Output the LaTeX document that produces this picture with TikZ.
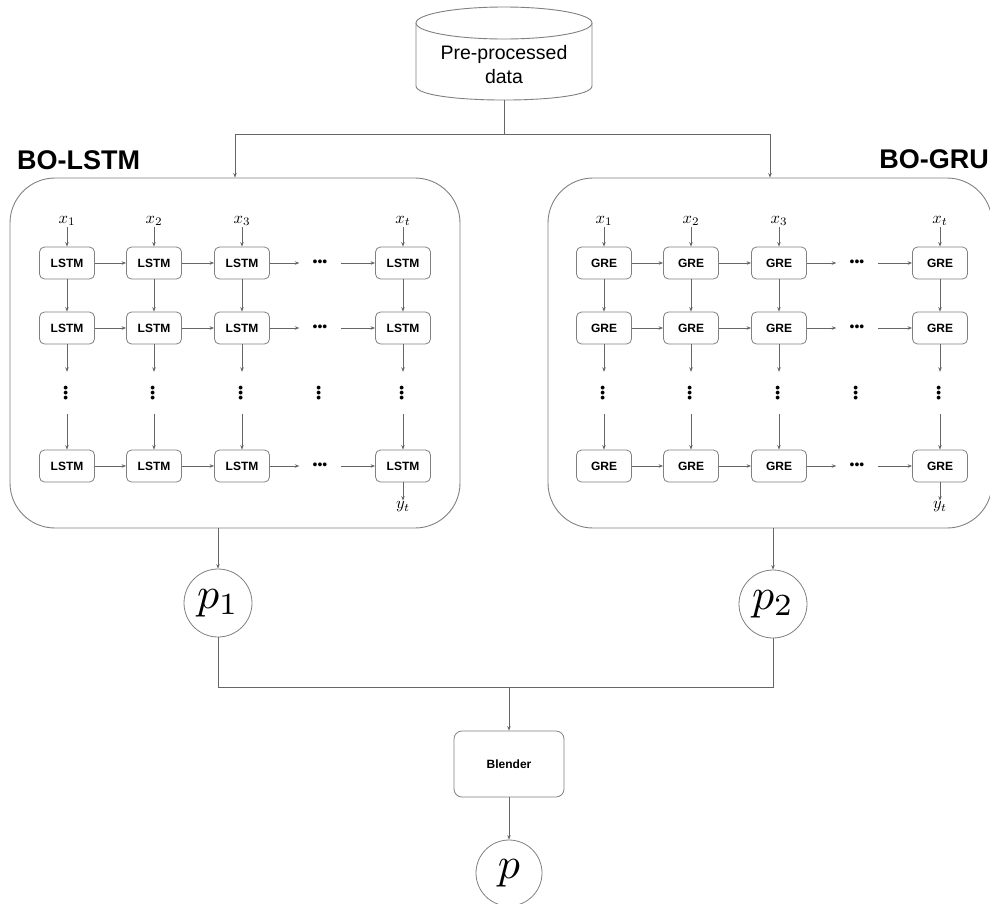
\documentclass[tikz,border=0pt]{standalone}
\usepackage{graphicx}
\usepackage{fontspec}
\setmainfont{Liberation Sans}
\usetikzlibrary{arrows.meta}
\definecolor{linecol}{gray}{0.4}
\definecolor{boxcol}{gray}{0.5}
\newcommand\mygrid[2]{%
  \foreach \c/\x in {1/67,2/154,3/242,5/403}{%
    \foreach \r/\y in {1/263,2/328,4/466}{%
      \node[cell] (#1-\r-\c) at (\x,\y) {#2};}
    \node[vdotsn] (#1-v-\c) at (\x,393) {•••};
  }
  \node[vdotsn] (#1-v-4) at (320,393) {•••};
  \foreach \r/\y in {1/263,2/328,4/466}{%
    \node[hdotsn] (#1-h-\r) at (320,\y) {•••};
    \draw[arr] (#1-\r-1) -- (#1-\r-2);
    \draw[arr] (#1-\r-2) -- (#1-\r-3);
    \draw[arr] (#1-\r-3) -- (#1-h-\r);
    \draw[arr] (#1-h-\r) -- (#1-\r-5);
  }
  \foreach \c in {1,2,3,5}{%
    \draw[arr] (#1-1-\c) -- (#1-2-\c);
    \draw[arr] (#1-2-\c) -- (#1-v-\c);
    \draw[arr] (#1-v-\c) -- (#1-4-\c);
  }
  \foreach \c/\x/\s in {1/67/1,2/154/2,3/242/3,5/403/t}{%
    \node[lab] (#1-x-\c) at (\x,221) {\scalebox{1.65}{$x_{\s}$}};
    \draw[arr] (#1-x-\c) -- (#1-1-\c);
  }
  \node[lab] (#1-y) at (403,507) {\scalebox{1.65}{$y_t$}};
  \draw[arr] (#1-4-5) -- (#1-y);
}
\begin{document}
\begin{tikzpicture}[x=1pt,y=-1pt,
  line/.style={draw=linecol, line width=0.8pt},
  arr/.style={line, -{Stealth[length=4.5pt,width=3.5pt]}},
  cell/.style={draw=boxcol, line width=0.8pt, rounded corners=5pt, minimum width=55pt, minimum height=32pt, inner sep=0pt, font=\fontsize{12}{14}\selectfont\bfseries, fill=white},
  hdotsn/.style={minimum width=41pt, minimum height=10pt, inner sep=0pt, font=\fontsize{14}{14}\selectfont},
  vdotsn/.style={rotate=90, minimum width=42pt, minimum height=10pt, inner sep=0pt, font=\fontsize{14}{14}\selectfont},
  lab/.style={inner sep=1pt},
  panel/.style={draw=boxcol, line width=0.9pt, rounded corners=45pt, inner sep=0pt},
  prob/.style={circle, draw=boxcol, line width=0.8pt, minimum size=68pt, inner sep=0pt},
  titlef/.style={inner sep=0pt, font=\fontsize{27}{27}\selectfont\bfseries}
]
\useasboundingbox (0,0) rectangle (990,903);

% database cylinder
\draw[boxcol, line width=0.9pt] (416,23) -- (416,86) .. controls (416,104.7) and (592,104.7) .. (592,86) -- (592,23);
\draw[boxcol, line width=0.9pt] (504,23) ellipse [x radius=88, y radius=16];
\node[align=center, font=\fontsize{19.5}{24}\selectfont, inner sep=0pt] (cyl) at (504,65) {Pre-processed\\data};
\coordinate (cylbot) at (504,100);
\coordinate (spl) at (504,134);

% panels
\node[panel, minimum width=450pt, minimum height=350pt] (lbox) at (235,353) {};
\node[panel, minimum width=444pt, minimum height=350pt] (rbox) at (770,353) {};
\node[titlef, anchor=west] (t1) at (17,160) {BO-LSTM};
\node[titlef, anchor=east] (t2) at (989,159) {BO-GRU};

\draw[line] (cylbot) -- (spl);
\draw[arr] (spl) -| (lbox.north);
\draw[arr] (spl) -| (rbox.north);

\mygrid{L}{LSTM}
\begin{scope}[xshift=537pt]
\mygrid{G}{GRE}
\end{scope}

% outputs
\node[prob] (p1) at (218,603) {\scalebox{4.4}{$p_1$}};
\node[prob] (p2) at (773,604) {\scalebox{4.4}{$p_2$}};
\draw[arr] (lbox.south -| p1) -- (p1);
\draw[arr] (rbox.south -| p2) -- (p2);
\coordinate (mrg) at (509,687);
\draw[line] (p1.south) |- (mrg) -| (p2.south);
\node[draw=boxcol, line width=0.8pt, rounded corners=8pt, minimum width=110pt, minimum height=66pt, inner sep=0pt, font=\fontsize{12}{14}\selectfont\bfseries] (blend) at (509,764) {Blender};
\draw[arr] (mrg) -- (blend);
\node[prob, minimum size=66pt] (p) at (509,873) {\scalebox{4.4}{$p$}};
\draw[arr] (blend) -- (p);
\end{tikzpicture}
\end{document}
